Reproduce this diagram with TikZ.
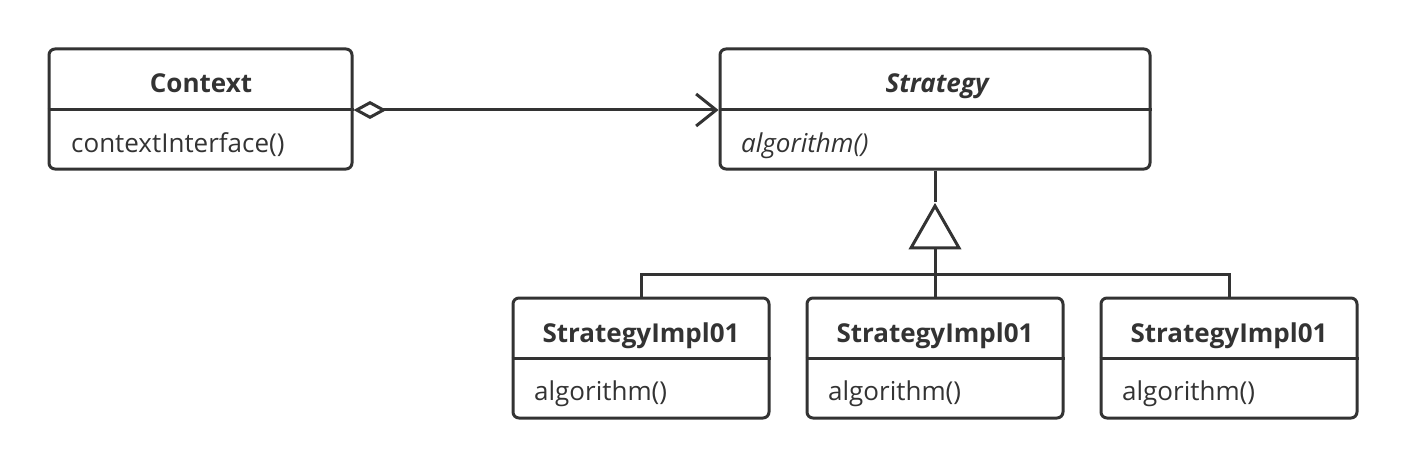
\documentclass[tikz,border=0pt]{standalone}
\usepackage{fontspec}
\setmainfont{Open Sans}
\usetikzlibrary{arrows.meta,shapes.geometric}
\definecolor{ink}{HTML}{333333}
\tikzset{
  classbox/.style={draw=ink, line width=3pt, rounded corners=6pt, inner sep=0pt},
  divider/.style={draw=ink, line width=3pt},
  conn/.style={draw=ink, line width=3pt},
  titletext/.style={text=ink, font=\fontsize{26}{31}\selectfont\bfseries, inner sep=0pt, anchor=base},
  methtext/.style={text=ink, font=\fontsize{26}{31}\selectfont, inner sep=0pt, anchor=base west},
}
\begin{document}
\begin{tikzpicture}[x=1pt,y=-1pt]
\useasboundingbox (0,0) rectangle (1408,468);
% Context
\node[classbox, minimum width=303pt, minimum height=120pt] (ctx) at (200.5,109) {};
\draw[divider] (ctx.west |- 0,110) -- (ctx.east |- 0,110);
\node[titletext] (ctxt) at (201,93) {Context};
\node[methtext] (ctxm) at (71,153) {contextInterface()};
% Strategy
\node[classbox, minimum width=430pt, minimum height=120pt] (str) at (935,109) {};
\draw[divider] (str.west |- 0,110) -- (str.east |- 0,110);
\node[titletext, font=\fontsize{26}{31}\selectfont\bfseries\itshape] (strt) at (937,93) {Strategy};
\node[methtext, font=\fontsize{26}{31}\selectfont\itshape] (strm) at (741,153) {algorithm()};
% Impl boxes
\foreach \n/\cx in {i1/641, i2/935, i3/1229}{
  \node[classbox, minimum width=256pt, minimum height=120pt] (\n) at (\cx,358) {};
  \draw[divider] (\n.west |- 0,358) -- (\n.east |- 0,358);
  \node[titletext] (\n t) at (\cx,342) {StrategyImpl01};
  \node[methtext] (\n m) at (\cx-107,400) {algorithm()};
}
% aggregation
\draw[conn, {Diamond[open,length=33pt,width=18pt,line width=3pt]}-{Straight Barb[length=20pt,width=32pt,line width=3pt]}] (ctx.east |- 0,110) -- (str.west |- 0,110);
% generalization
\node[isosceles triangle, shape border rotate=90, isosceles triangle stretches, draw=ink, line width=3pt, fill=white, minimum height=42pt, minimum width=48pt, inner sep=0pt] (tri) at (935,234) {};
\draw[conn] (str.south) -- (tri.apex);
\draw[conn] (tri.south) -- (i2.north);
\draw[conn] (i1.north) -- ++(0,-22) -| (i3.north);
\end{tikzpicture}
\end{document}
